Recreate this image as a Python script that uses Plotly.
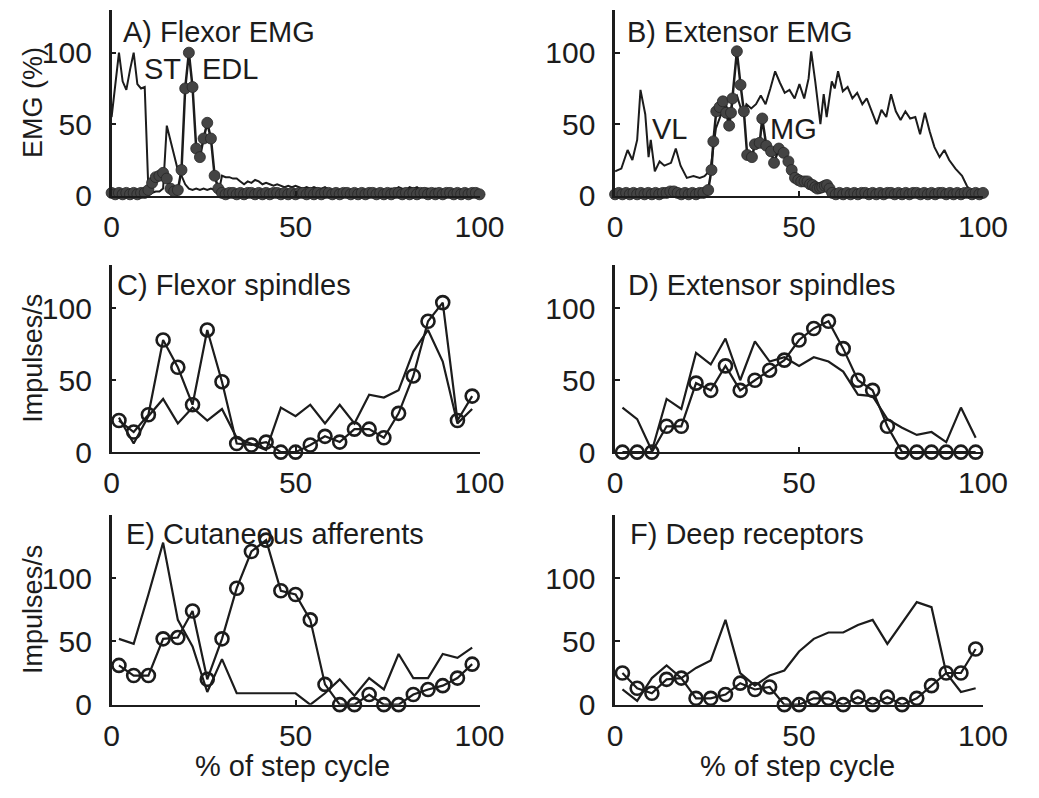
import plotly.graph_objects as go

W, H = 1039, 798
FONT = "Liberation Sans, Arial, Helvetica, sans-serif"
INK = "#1c1c1c"
FILL = "#444444"

# ---------------- data ----------------
PCT_X = list(range(0, 101))
BIN_X = [2, 6, 10, 14, 18, 22, 26, 30, 34, 38, 42, 46, 50, 54, 58, 62, 66, 70, 74, 78, 82, 86, 90, 94, 98]

# A) Flexor EMG
ST_Y = [55, 78, 100, 80, 74, 88, 100, 78, 75, 76,
        4, 2, 3, 3, 5, 49, 38, 28, 18, 14,
        8, 5, 4, 5, 4, 5, 4, 5, 4, 1,
        14, 13, 13, 12, 12, 10, 8, 10, 9, 11,
        10, 8, 9, 8, 7, 8, 7, 6, 7, 6,
        7, 6, 5, 6, 5, 6, 5, 5, 6, 4,
        3, 3, 3, 3, 3, 3, 3, 3, 3, 3,
        3, 3, 3, 3, 3, 4, 5, 4, 6, 5,
        4, 6, 5, 6, 4, 5, 5, 4, 5, 4,
        4, 3, 4, 3, 4, 3, 3, 3, 3, 3,
        3]
EDL_Y = [2, 1, 2, 1, 2, 1, 2, 1, 2, 2,
         4, 9, 13, 14, 16, 12, 5, 3, 4, 18,
         75, 100, 76, 33, 27, 40, 51, 40, 14, 5,
         2, 1, 2, 2, 1, 2, 1, 2, 2, 1,
         2, 1, 2, 1, 2, 2, 1, 2, 1, 2,
         1, 2, 2, 1, 2, 1, 2, 1, 2, 2,
         1, 2, 1, 2, 2, 1, 2, 1, 2, 1,
         2, 2, 1, 2, 1, 2, 1, 2, 2, 1,
         2, 1, 2, 1, 2, 2, 1, 2, 1, 2,
         1, 2, 2, 1, 2, 1, 2, 1, 2, 2,
         1]

# B) Extensor EMG
VL_X = [0, 1.7, 3.4, 4.7, 6, 6.9, 8.2, 9.1, 9.7, 10.8,
        12.1, 13.4, 15.2, 16.5, 17.8, 19.5, 21.3, 23, 24.3, 25.9,
        27.4, 29.1, 30, 30.9, 32.2, 33.1, 34.8, 35.7, 37, 38.3,
        39.6, 40.9, 42.2, 43.5, 44.8, 46.1, 47.4, 48.8, 50.1, 51.4,
        52.6, 53.3, 54.4, 55.8, 56.7, 57.5, 58.9, 59.7, 60.6, 61.9,
        63.2, 64.5, 65.8, 67.2, 68.4, 69.8, 71.1, 72.4, 73.7, 75,
        76.3, 77.6, 78.9, 80.2, 81.6, 82.9, 84.2, 85.5, 86.8, 88.2,
        89.5, 90.8, 92.5, 94.3, 95.6, 96.9, 98.2]
VL_Y = [17, 19, 32, 25, 39, 74, 57, 27, 39, 17,
        24, 21, 23, 33, 21, 12.5, 13.7, 12.5, 13.7, 18,
        47, 59, 67, 53, 68, 70, 56, 64, 61, 64,
        70, 64, 75, 87, 79, 72, 74, 68, 78, 68,
        82, 101, 80, 50, 71, 55, 80, 75, 87, 73,
        76, 68, 72, 64, 68, 59, 50, 60, 55, 71,
        59, 53, 59, 54, 55, 43, 58, 45, 34, 27,
        32, 25, 19, 14, 7, 2, 4]
MG_X = [0, 1, 2, 3, 4, 5, 6, 7, 8, 9, 10, 11, 12, 13, 14, 15, 16, 17, 18, 19, 20, 21, 22, 23, 24,
        25.3, 26.2, 26.7, 27.5, 28.4, 29.3, 30.2, 31, 31.5, 31.9,
        33.1, 34.1, 35, 35.9, 37.2, 38, 39.3, 40, 41.1, 42.4,
        43.2, 44.5, 45.8, 47.1, 48, 48.9, 49.8, 50.6, 51.5, 52.3,
        53, 53.7, 54.4, 55, 55.7, 56.3, 57, 57.6, 58.3, 59,
        60, 61, 62, 63, 64, 65, 66, 67, 68, 69, 70, 71, 72, 73, 74, 75, 76, 77, 78, 79,
        80, 81, 82, 83, 84, 85, 86, 87, 88, 89, 90, 91, 92, 93, 94, 95, 96, 97, 98, 99, 100]
MG_Y = [1, 2, 1, 2, 1, 2, 1, 2, 1, 2, 1, 2, 1, 2, 2, 3, 3, 2, 1, 2, 1, 2, 1, 2, 2,
        4, 18, 38, 59, 62, 66, 58, 49, 58, 68,
        101, 77.5, 59, 28.5, 27, 36, 37, 54, 35, 31,
        23, 33, 30, 24, 18, 12.5, 11, 10, 10, 10,
        8, 7.5, 6, 5, 5.5, 6, 7, 7.5, 5, 2,
        1, 2, 1, 2, 1, 2, 1, 2, 2, 1, 2, 1, 2, 1, 2, 2, 1, 2, 1, 2,
        1, 2, 2, 1, 2, 1, 2, 1, 2, 2, 1, 2, 1, 2, 1, 2, 2, 1, 2, 1, 2]

# C) Flexor spindles
C_CIRC = [22, 14, 26, 78, 59, 33, 85, 49, 6, 5, 7, 0, 0, 5, 11, 7, 16, 16, 10, 27, 53, 91, 104, 22, 39]
C_LINE = [24, 6, 25, 37, 20, 31, 22, 30, 10, 6, 1.5, 31, 25, 33, 20, 33, 20, 40, 38, 43, 70, 85, 63, 20, 30]

# D) Extensor spindles
D_CIRC = [0, 0, 0, 18, 18, 48, 43, 60, 43, 50, 57, 64, 78, 86, 91, 72, 50, 43, 18, 0, 0, 0, 0, 0, 0]
D_LINE = [31, 23, 1, 37, 30, 69, 61, 79, 50, 77, 63, 66, 60, 66, 63, 56, 40, 39, 23, 17, 12, 14, 7, 31, 10]

# E) Cutaneous afferents
E_CIRC = [31, 23, 23, 52, 53, 74, 20, 52, 92, 121, 130, 90, 87, 67, 16, 0, 0, 8, 0, 0, 8, 12, 15, 21, 32]
E_LINE = [52, 48, 87, 128, 67, 46, 10, 36, 9, 9, 9, 9, 9, 0, 9, 20, 7, 21, 12, 40, 21, 21, 40, 37, 45]

# F) Deep receptors
F_CIRC = [25, 13, 9, 20, 21, 5, 5, 8, 17, 12, 14, 0, 0, 5, 5, 0, 6, 0, 6, 0, 5, 15, 25, 25, 44]
F_LINE = [12, 3, 21, 31, 21, 29, 35, 67, 25, 15, 23, 27, 42, 52, 57, 57, 63, 67, 48, 65, 81, 77, 25, 10, 13]

TITLES = ["A) Flexor EMG", "B) Extensor EMG", "C) Flexor spindles",
          "D) Extensor spindles", "E) Cutaneous afferents", "F) Deep receptors"]
Y_TITLES = ["EMG (%)", "Impulses/s", "Impulses/s"]
X_TITLE = "% of step cycle"
TICKS = [0, 50, 100]
Y_MAX = [130, 130, 150]

# ---------------- layout geometry (pixels) ----------------
COL_X = [(107, 487), (627, 1007)]
ROW_Y = [(10, 200), (271, 462), (526, 720)]


def px(v):
    return v / W


def py(v):
    return 1 - v / H


fig = go.Figure()


def line_trace(x, y, ax, width=2.2):
    fig.add_trace(go.Scatter(x=x, y=y, mode="lines", xaxis="x" + ax, yaxis="y" + ax,
                             line=dict(color=INK, width=width), cliponaxis=False,
                             showlegend=False, hoverinfo="skip"))


def filled_trace(x, y, ax):
    fig.add_trace(go.Scatter(x=x, y=y, mode="lines+markers", xaxis="x" + ax, yaxis="y" + ax,
                             line=dict(color=INK, width=2.5),
                             marker=dict(symbol="circle", size=11, color=FILL,
                                         line=dict(color="#262626", width=0.8)),
                             cliponaxis=False, showlegend=False, hoverinfo="skip"))


def open_trace(x, y, ax):
    fig.add_trace(go.Scatter(x=x, y=y, mode="lines+markers", xaxis="x" + ax, yaxis="y" + ax,
                             line=dict(color=INK, width=2.2),
                             marker=dict(symbol="circle-open", size=13, color=INK,
                                         line=dict(color=INK, width=2.6)),
                             cliponaxis=False, showlegend=False, hoverinfo="skip"))


# A
line_trace(PCT_X, ST_Y, "", 2.0)
filled_trace(PCT_X, EDL_Y, "")
# B
line_trace(VL_X, VL_Y, "2", 2.0)
filled_trace(MG_X, MG_Y, "2")
# C
line_trace(BIN_X, C_LINE, "3")
open_trace(BIN_X, C_CIRC, "3")
# D
line_trace(BIN_X, D_LINE, "4")
open_trace(BIN_X, D_CIRC, "4")
# E
line_trace(BIN_X, E_LINE, "5")
open_trace(BIN_X, E_CIRC, "5")
# F
line_trace(BIN_X, F_LINE, "6")
open_trace(BIN_X, F_CIRC, "6")

tickfont = dict(family=FONT, size=30, color=INK)
layout = dict(width=W, height=H, autosize=False, margin=dict(l=0, r=0, t=0, b=0),
              paper_bgcolor="white", plot_bgcolor="white", showlegend=False)

annotations = []
for i in range(6):
    r, c = divmod(i, 2)
    key = "" if i == 0 else str(i + 1)
    x0, x1 = COL_X[c]
    y0, y1 = ROW_Y[r]
    layout["xaxis" + key] = dict(domain=[px(x0), px(x1)], range=[0, 100], tickvals=TICKS,
                                 ticks="inside", ticklen=5, tickwidth=1.5, tickcolor=INK,
                                 showline=True, linecolor=INK, linewidth=2, mirror=False,
                                 showgrid=False, zeroline=False, tickfont=tickfont,
                                 ticklabelstandoff=3, anchor="y" + key, fixedrange=True)
    layout["yaxis" + key] = dict(domain=[py(y1), py(y0)], range=[0, Y_MAX[r]], tickvals=TICKS,
                                 ticks="inside", ticklen=5, tickwidth=1.5, tickcolor=INK,
                                 showline=True, linecolor=INK, linewidth=2.5, mirror=False,
                                 showgrid=False, zeroline=False, tickfont=tickfont,
                                 ticklabelstandoff=11, anchor="x" + key, fixedrange=True)

TITLE_POS = [(117, 33), (637, 33), (110, 291), (638, 291), (120, 546), (640, 546)]
for t, (tx, ty) in zip(TITLES, TITLE_POS):
    annotations.append(dict(text=t, x=px(tx), y=py(ty), xref="paper", yref="paper",
                            xanchor="left", yanchor="middle", showarrow=False,
                            font=dict(family=FONT, size=29, color=INK)))

LABELS = [("ST", 138, 71), ("EDL", 198, 71), ("VL", 663, 132), ("MG", 785, 132)]
for t, tx, ty in LABELS:
    annotations.append(dict(text=t, x=px(tx), y=py(ty), xref="paper", yref="paper",
                            xanchor="left", yanchor="middle", showarrow=False,
                            font=dict(family=FONT, size=29, color=INK)))

for r, t in enumerate(Y_TITLES):
    y0, y1 = ROW_Y[r]
    annotations.append(dict(text=t, x=px(26), y=py((y0 + y1) / 2), xref="paper", yref="paper",
                            xanchor="center", yanchor="middle", textangle=-90, showarrow=False,
                            font=dict(family=FONT, size=27, color=INK)))

for cx in (294, 815):
    annotations.append(dict(text=X_TITLE, x=px(cx), y=py(764), xref="paper", yref="paper",
                            xanchor="center", yanchor="top", showarrow=False,
                            font=dict(family=FONT, size=29, color=INK)))

layout["annotations"] = annotations
fig.update_layout(**layout)
fig.write_html("out.html")
